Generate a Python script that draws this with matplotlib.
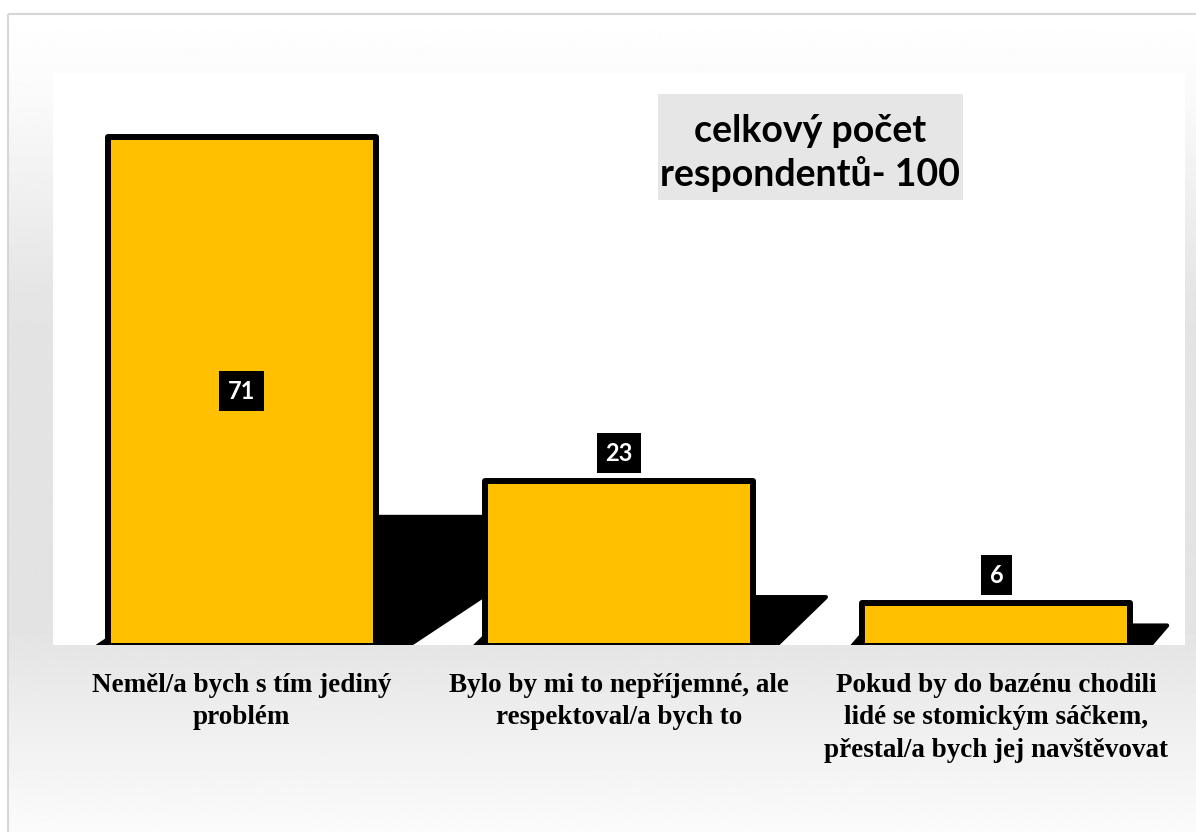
import numpy as np
import matplotlib
matplotlib.use('Agg')
import matplotlib.pyplot as plt
from matplotlib.patches import Rectangle, Polygon

# ---- data ----
categories = ["Neměl/a bych s tím jediný\nproblém",
              "Bylo by mi to nepříjemné, ale\nrespektoval/a bych to",
              "Pokud by do bazénu chodili\nlidé se stomickým sáčkem,\npřestal/a bych jej navštěvovat"]
values = [71, 23, 6]
note_text = "celkový počet\nrespondentů- 100"

W, H = 1196, 832
fig = plt.figure(figsize=(W / 100, H / 100), dpi=100)
fig.patch.set_facecolor('white')

# background gradient + frame
bg = fig.add_axes([0, 0, 1, 1], zorder=-5)
bg.set_xlim(0, W)
bg.set_ylim(H, 0)
bg.axis('off')
ys = np.arange(14, H + 1)
shade = np.interp(ys, [14, 100, 300, 620, 700, 832],
                  [1.0, 0.98, 0.895, 0.888, 0.925, 0.985])
grad = np.repeat(shade[:, None], 2, axis=1)
bg.imshow(grad, extent=[8, W, H, 14], aspect='auto', cmap='gray',
          vmin=0, vmax=1, interpolation='bilinear')
bg.add_patch(Rectangle((8, 14), W, H, fill=False, edgecolor='#d6d6d6', lw=1.5))

# main axes
ax = fig.add_axes([53 / W, 187 / H, 1132 / W, 572 / H])
ax.set_facecolor('white')
x = np.arange(len(values))
bw = 0.71
ymin, ymax = 0.14, 79.9
ax.set_xlim(-0.5, 2.5)
ax.set_ylim(ymin, ymax)
pxx = 1132 / 3.0
pxy = 572 / (ymax - ymin)

# perspective shadows derived from the values
for xi, v in zip(x, values):
    hs = 0.233 * v + 1.46
    skew = 0.8 + 0.01 * v
    shift = skew * hs * pxy / pxx
    x0 = xi - bw / 2 - 10 / pxx
    x1 = xi + bw / 2 + (18 + 0.2 * v) / pxx
    poly = Polygon([(x0, 0), (x1, 0), (x1 + shift, hs), (x0 + shift, hs)],
                   closed=True, facecolor='black', edgecolor='black', lw=3,
                   joinstyle='round', zorder=1)
    ax.add_patch(poly)

ax.bar(x, values, width=bw, color='#FFC000', edgecolor='black',
       linewidth=4.3, joinstyle='round', zorder=2)

lab_kw = dict(ha='center', va='center', color='white', fontsize=17,
              fontweight='bold', family=['Lato', 'DejaVu Sans'], zorder=6,
              bbox=dict(boxstyle='square,pad=0.36', fc='black', ec='none'))
for xi, v in zip(x, values):
    if v > 50:
        ax.text(xi, v / 2, str(v), **lab_kw)
    else:
        ax.annotate(str(v), (xi, v), xytext=(0, 20), textcoords='offset points', **lab_kw)

# note box
ax.add_patch(Rectangle((0.5345, 0.778), 0.2694, 0.1853, transform=ax.transAxes,
                       facecolor='#e6e6e6', edgecolor='none', zorder=3))
ax.text(0.669, 0.860, note_text, transform=ax.transAxes, ha='center', va='center',
        fontsize=27, fontweight='bold', family=['Lato', 'DejaVu Sans'],
        linespacing=1.25, zorder=4)

ax.set_xticks(x)
ax.set_xticklabels(categories, fontfamily='Liberation Serif', fontweight='bold',
                   fontsize=19.5, linespacing=1.39)
ax.tick_params(axis='x', length=0, pad=20)
ax.set_yticks([])
for s in ax.spines.values():
    s.set_visible(False)

fig.savefig('out.png', dpi=100)
